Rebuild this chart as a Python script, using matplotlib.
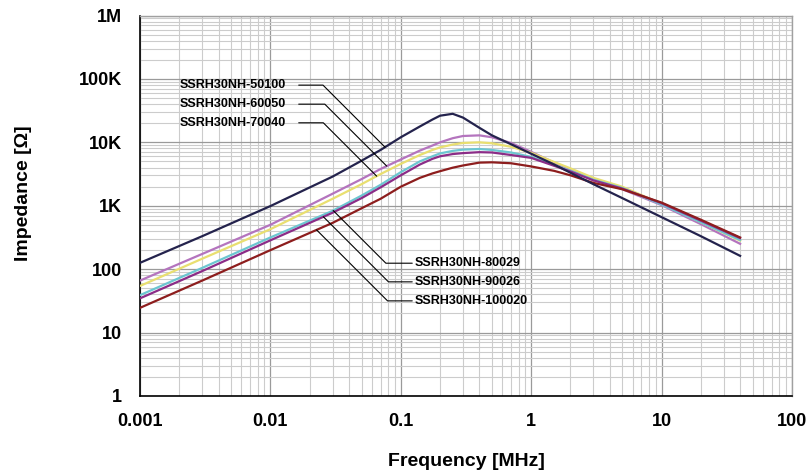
import matplotlib
matplotlib.use('Agg')
import numpy as np
import matplotlib.pyplot as plt
from matplotlib.ticker import LogLocator, FixedLocator, FixedFormatter, NullFormatter

# frequency points (MHz)
freq = [0.001, 0.003, 0.01, 0.03, 0.05, 0.07, 0.1, 0.14, 0.175, 0.2, 0.25, 0.3,
        0.4, 0.5, 0.7, 1, 1.5, 2, 3, 5, 10, 20, 40]

# impedance, as log10(ohm), one list per part number
logz_50100 = [2.10, 2.52, 2.995, 3.46, 3.71, 3.88, 4.08, 4.25, 4.36, 4.42, 4.45, 4.39,
              4.23, 4.11, 3.97, 3.82, 3.65, 3.52, 3.34, 3.12, 2.82, 2.52, 2.21]
logz_60050 = [1.82, 2.24, 2.70, 3.19, 3.42, 3.58, 3.73, 3.87, 3.95, 4.00, 4.065, 4.10,
              4.11, 4.08, 3.99, 3.85, 3.68, 3.57, 3.42, 3.26, 3.01, 2.71, 2.40]
logz_70040 = [1.735, 2.165, 2.63, 3.11, 3.34, 3.50, 3.66, 3.80, 3.88, 3.92, 3.965, 3.99,
              4.00, 3.985, 3.93, 3.835, 3.69, 3.59, 3.44, 3.30, 3.03, 2.74, 2.45]
logz_80029 = [1.59, 2.02, 2.50, 2.92, 3.16, 3.33, 3.53, 3.70, 3.78, 3.825, 3.865, 3.885,
              3.895, 3.88, 3.84, 3.77, 3.64, 3.55, 3.41, 3.28, 3.02, 2.74, 2.46]
logz_90026 = [1.54, 1.97, 2.455, 2.89, 3.12, 3.29, 3.48, 3.65, 3.74, 3.78, 3.815, 3.83,
              3.845, 3.84, 3.80, 3.755, 3.63, 3.54, 3.40, 3.27, 3.04, 2.765, 2.49]
logz_100020 = [1.39, 1.82, 2.30, 2.73, 2.96, 3.11, 3.30, 3.44, 3.51, 3.545, 3.60, 3.635,
               3.68, 3.685, 3.67, 3.62, 3.55, 3.48, 3.36, 3.26, 3.05, 2.78, 2.50]

names = ['SSRH30NH-50100', 'SSRH30NH-60050', 'SSRH30NH-70040',
         'SSRH30NH-80029', 'SSRH30NH-90026', 'SSRH30NH-100020']
series = [logz_50100, logz_60050, logz_70040, logz_80029, logz_90026, logz_100020]
colors = ['#24234d', '#b474be', '#e9df70', '#6cc6d1', '#8b2c87', '#8d1d1d']

# where each leader line touches its curve (MHz)
anchor_f = [0.0757, 0.078, 0.0653, 0.0303, 0.0255, 0.0226]

xticks = [0.001, 0.01, 0.1, 1, 10, 100]
xtick_labels = ['0.001', '0.01', '0.1', '1', '10', '100']
yticks = [1, 10, 100, 1e3, 1e4, 1e5, 1e6]
ytick_labels = ['1', '10', '100', '1K', '10K', '100K', '1M']

plt.rcParams['font.family'] = ['Liberation Sans', 'DejaVu Sans']
plt.rcParams['font.weight'] = 'bold'

fig = plt.figure(figsize=(8.1, 4.72), dpi=100)
ax = fig.add_axes([140/810, 76/472, 652/810, 380.5/472])

ax.set_xscale('log')
ax.set_yscale('log')
ax.set_xlim(0.001, 100)
ax.set_ylim(1, 1e6)

draw_order = [1, 2, 3, 4, 5, 0]
for i in draw_order:
    ax.plot(freq, 10 ** np.array(series[i]), color=colors[i], lw=1.6,
            solid_joinstyle='round', zorder=3)

ax.xaxis.set_major_locator(FixedLocator(xticks))
ax.xaxis.set_major_formatter(FixedFormatter(xtick_labels))
ax.yaxis.set_major_locator(FixedLocator(yticks))
ax.yaxis.set_major_formatter(FixedFormatter(ytick_labels))
ax.xaxis.set_minor_locator(LogLocator(base=10, subs=np.arange(2, 10), numticks=20))
ax.yaxis.set_minor_locator(LogLocator(base=10, subs=np.arange(2, 10), numticks=20))
ax.xaxis.set_minor_formatter(NullFormatter())
ax.yaxis.set_minor_formatter(NullFormatter())

ax.grid(True, which='major', color='#9a9a9a', lw=0.9, zorder=0)
ax.grid(True, which='minor', color='#cccccc', lw=0.8, zorder=0)
ax.set_axisbelow(True)

ax.tick_params(which='both', length=0)
ax.tick_params(axis='x', pad=12, labelsize=13)
ax.tick_params(axis='y', pad=13, labelsize=13)
for t in ax.get_xticklabels() + ax.get_yticklabels():
    t.set_fontweight('bold')

for s in ['left', 'bottom']:
    ax.spines[s].set_color('black')
    ax.spines[s].set_linewidth(1.2)
for s in ['top', 'right']:
    ax.spines[s].set_color('#a0a0a0')
    ax.spines[s].set_linewidth(1.0)

ax.set_xlabel('Frequency [MHz]', fontsize=14, fontweight='bold', va='center')
ax.set_ylabel('Impedance [Ω]', fontsize=14, fontweight='bold', va='center')
ax.xaxis.set_label_coords(0.5, -0.172)
ax.yaxis.set_label_coords(-0.179, 0.533)

# labels with leader lines
text_pos = [(0.0613, 0.817), (0.0613, 0.767), (0.0613, 0.718),
            (0.4218, 0.349), (0.4218, 0.300), (0.4218, 0.250)]
lf = np.log10(freq)
for i in range(6):
    za = 10 ** np.interp(np.log10(anchor_f[i]), lf, series[i])
    if i < 3:
        rel = (1, 0.5)
        shr = 7
    else:
        rel = (0, 0.5)
        shr = 0
    ax.annotate(names[i], xy=(anchor_f[i], za), xycoords='data',
                xytext=text_pos[i], textcoords='axes fraction',
                ha='left', va='center', fontsize=9, fontweight='bold',
                arrowprops=dict(arrowstyle='-', color='black', lw=0.8,
                                connectionstyle='angle,angleA=0,angleB=-45,rad=0',
                                relpos=rel, shrinkA=shr, shrinkB=0),
                zorder=4)

fig.savefig('out.png', dpi=100)
